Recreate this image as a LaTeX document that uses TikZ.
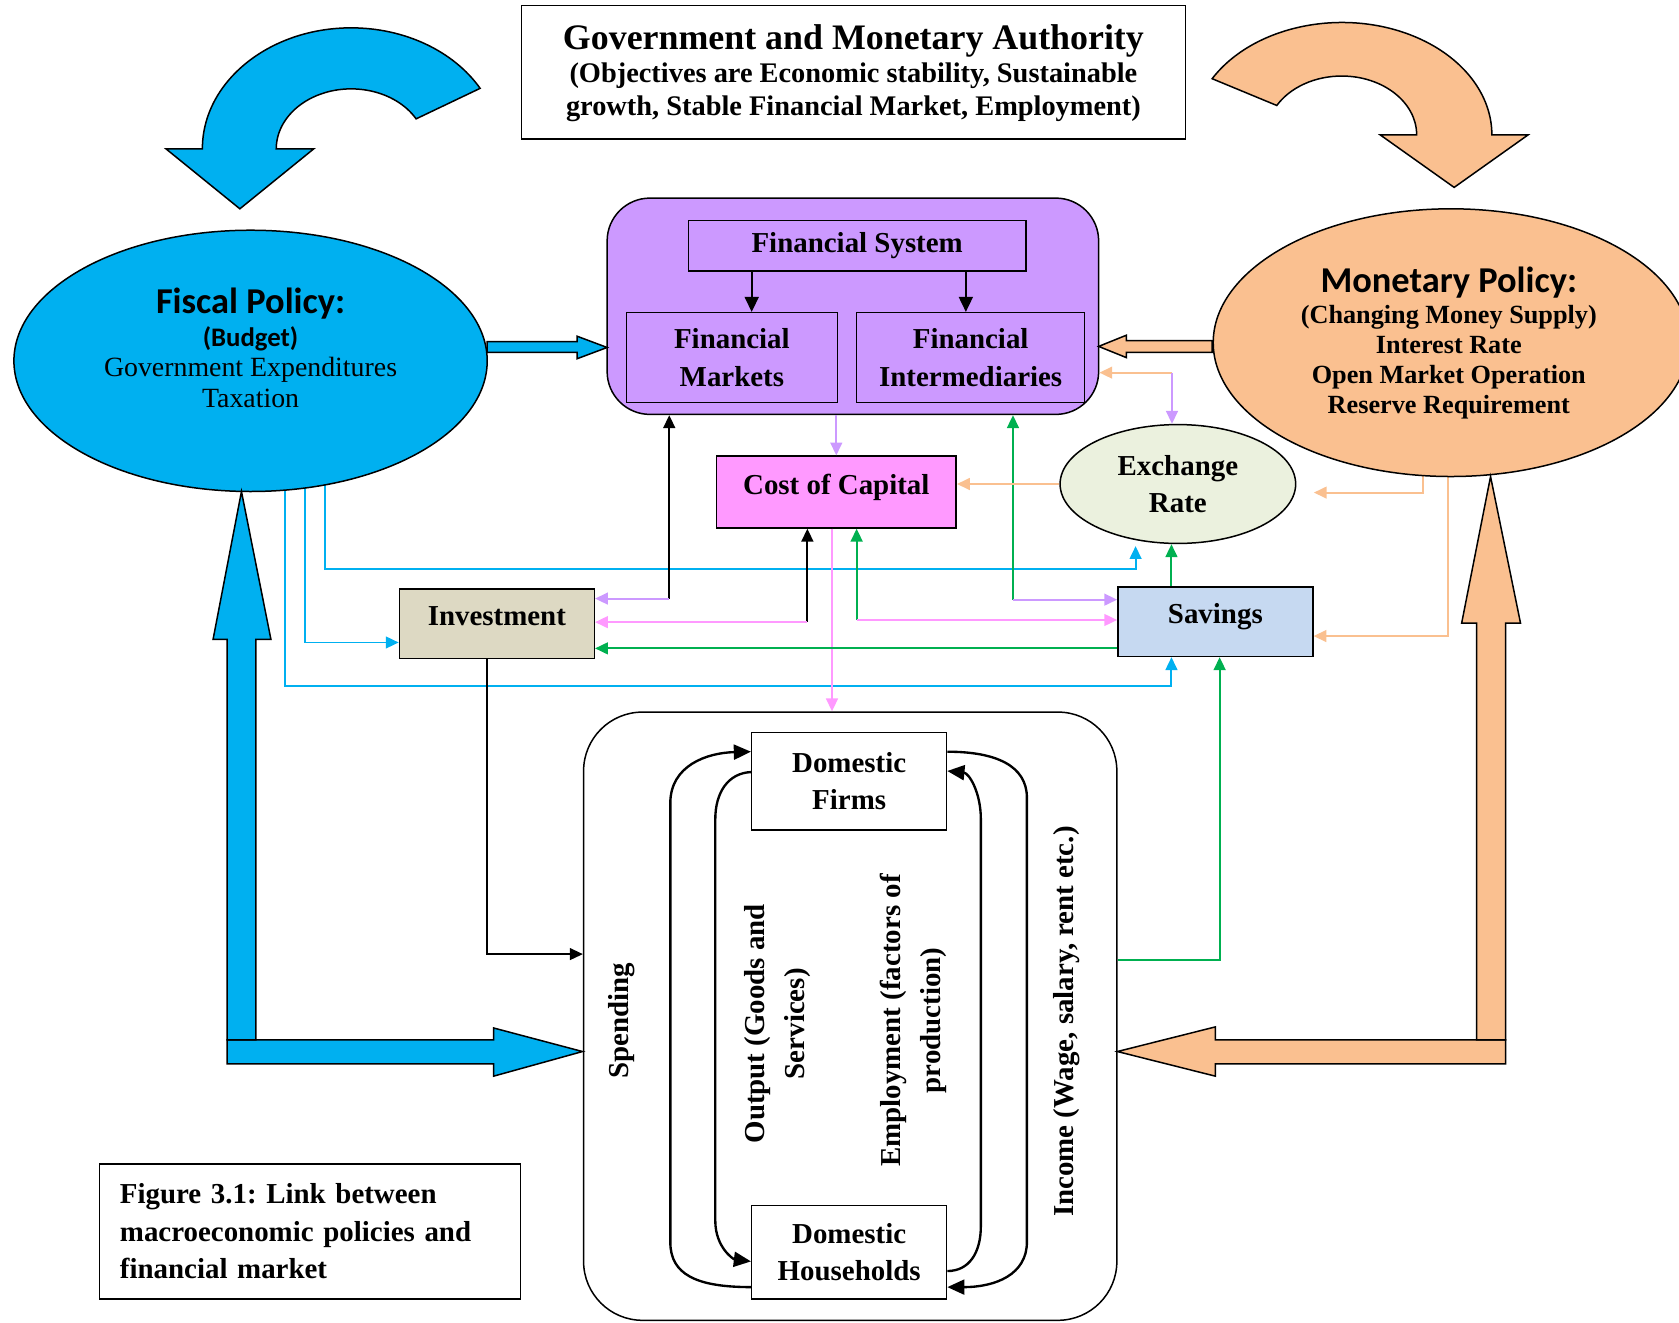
\documentclass[tikz,border=0pt]{standalone}
\usepackage{fontspec}
\setmainfont{Liberation Serif}
\newfontfamily\calib{Carlito}
\usetikzlibrary{shapes.geometric,arrows.meta,backgrounds}
\frenchspacing

\definecolor{fiscblue}{HTML}{00B0F0}
\definecolor{monorange}{HTML}{FAC090}
\definecolor{finpurple}{HTML}{CC99FF}
\definecolor{cocpink}{HTML}{FF99FF}
\definecolor{xrgreen}{HTML}{EBF1DE}
\definecolor{invtan}{HTML}{DDD9C3}
\definecolor{savblue}{HTML}{C6D9F1}
\definecolor{lngreen}{HTML}{00B050}

\tikzset{
  box/.style={draw, line width=1.4pt, inner sep=0pt, align=center, font=\fontsize{27}{35}\selectfont\bfseries},
  oval/.style={ellipse, draw, line width=1.4pt, inner sep=0pt},
  up/.style={text height=18pt, text depth=14pt},
  lnk/.style={line width=1.8pt, -{Triangle[length=12pt,width=11pt]}},
  sys/.style={line width=1.8pt, -{Triangle[length=14pt,width=13pt]}},
  cyc/.style={line width=2.2pt, -{Triangle[length=16pt,width=14pt]}},
  blk/.style={line width=1.4pt, draw=black},
  vlbl/.style={rotate=90, align=center, font=\fontsize{27}{38}\selectfont\bfseries}
}

\begin{document}
\begin{tikzpicture}[x=1pt,y=-1pt]
\useasboundingbox (0,0) rectangle (1568,1235);

\node[box, minimum width=620pt, minimum height=125pt, text depth=4pt, font=\fontsize{26.5}{31}\selectfont\bfseries] (gov) at (797,67.5)
  {{\fontsize{33.5}{36}\selectfont Government and Monetary Authority}\\(Objectives are Economic stability, Sustainable\\growth, Stable Financial Market, Employment)};

% curved arrows
\filldraw[blk, fill=fiscblue] (189,139) arc[start angle=180, end angle=30, x radius=139pt, y radius=113pt]
  -- (388.6,111) arc[start angle=30, end angle=180, x radius=70pt, y radius=56pt]
  -- (293,139) -- (224,195) -- (155,139) -- cycle;
\filldraw[blk, fill=monorange] (1132,73.5) arc[start angle=150, end angle=0, x radius=140pt, y radius=105pt]
  -- (1427,126) -- (1358,175) -- (1289,126) -- (1323,126)
  arc[start angle=0, end angle=150, x radius=70pt, y radius=55pt] -- cycle;

\node[oval, fill=fiscblue, minimum width=442pt, minimum height=244pt] (fp) at (234,337) {};
\node[align=center, font=\fontsize{26}{28.5}\selectfont] (fp-t) at (234,325)
  {{\calib\bfseries\fontsize{34}{38}\selectfont Fiscal Policy:}\\[2pt]{\calib\bfseries\fontsize{25}{30}\selectfont (Budget)}\\Government Expenditures\\Taxation};
\node[oval, fill=monorange, minimum width=444pt, minimum height=250pt] (mp) at (1355,320) {};
\node[align=center, font=\fontsize{24.5}{28}\selectfont\bfseries] (mp-t) at (1353,320)
  {{\calib\fontsize{34}{38}\selectfont Monetary Policy:}\\[1pt](Changing Money Supply)\\Interest Rate\\Open Market Operation\\Reserve Requirement};

\node[box, fill=finpurple, rounded corners=40pt, minimum width=459pt, minimum height=202pt] (fin) at (796.5,286) {};
\node[box, fill=finpurple, minimum width=315pt, minimum height=47pt] (fsys) at (800.5,229.5) {Financial System};
\node[box, fill=finpurple, minimum width=197pt, minimum height=84pt] (fmkt) at (683.5,334) {Financial\\Markets};
\node[box, fill=finpurple, minimum width=213pt, minimum height=84pt] (fint) at (906.5,334) {Financial\\Intermediaries};

\node[box, up, fill=cocpink, minimum width=224pt, minimum height=67pt] (coc) at (781,459.5) {Cost of Capital};
\node[oval, box, fill=xrgreen, minimum width=220pt, minimum height=111pt] (xr) at (1100,452) {Exchange\\Rate};
\node[box, up, fill=invtan, minimum width=182pt, minimum height=65pt] (inv) at (464,582.5) {Investment};
\node[box, up, fill=savblue, minimum width=182pt, minimum height=65pt] (sav) at (1135,580.5) {Savings};

\node[box, rounded corners=55pt, minimum width=498pt, minimum height=568pt] (flow) at (794,949) {};
\node[box, fill=white, minimum width=182pt, minimum height=91pt] (firm) at (793,729.5) {Domestic\\Firms};
\node[box, fill=white, minimum width=182pt, minimum height=87pt] (hh) at (793,1169.5) {Domestic\\Households};

\node[vlbl] (spend) at (581,953) {Spending};
\node[vlbl] (outp) at (726,956) {Output (Goods and\\Services)};
\node[vlbl] (empl) at (853,953) {Employment (factors of\\production)};
\node[vlbl] (inc) at (996,954) {Income (Wage, salary, rent etc.)};

\node[box, minimum width=393pt, minimum height=126pt, text width=355pt, align=left] (cap) at (289.5,1150)
  {Figure 3.1: Link between\\macroeconomic policies and\\financial market};

% block arrows
\filldraw[blk, fill=fiscblue] (455,319) -- (539,319) -- (539,314) -- (567,324.5) -- (539,335) -- (539,329) -- (455,329) -- cycle;
\filldraw[blk, fill=monorange] (1132,318) -- (1052,318) -- (1052,313) -- (1026,323.5) -- (1052,334) -- (1052,329) -- (1132,329) -- cycle;
\filldraw[blk, fill=fiscblue] (212,971) -- (461,971) -- (461,960) -- (544,982) -- (461,1005) -- (461,993.5) -- (212,993.5) -- cycle;
\filldraw[blk, fill=fiscblue] (212,971) -- (212,597) -- (199,597) -- (225.5,459) -- (253,597) -- (239,597) -- (239,971) -- cycle;
\filldraw[blk, fill=monorange] (1406,971) -- (1135,971) -- (1135,959) -- (1043.5,982) -- (1135,1005) -- (1135,993.5) -- (1406,993.5) -- cycle;
\filldraw[blk, fill=monorange] (1379,971) -- (1379,582) -- (1365,582) -- (1392,445) -- (1420,582) -- (1406,582) -- (1406,971) -- cycle;

% connectors
\coordinate (c1) at (625,559);
\coordinate (c2) at (946,560);
\coordinate (c3) at (1094.5,348);
\coordinate (c4) at (754,581);
\coordinate (c5) at (800,579);
\coordinate (xrb) at (1060.5,510);
\coordinate (xrr) at (1227,460);

\draw[sys] (fsys.south -| 702,0) -- (fmkt.north -| 702,0);
\draw[sys] (fsys.south -| 902,0) -- (fint.north -| 902,0);

\draw[lnk, draw=finpurple] (coc.north |- fin.south) -- (coc.north);
\draw[lnk] (c1) -- (fin.south -| c1);
\draw[lnk, draw=finpurple] (c1) -- (inv.east |- c1);
\draw[lnk, draw=lngreen] (c2) -- (fin.south -| c2);
\draw[lnk, draw=finpurple] (c2) -- (sav.west |- c2);
\draw[lnk, draw=monorange] (c3) -- (fin.east |- c3);
\draw[lnk, draw=finpurple] (c3) -- (c3 |- xr.north);
\draw[lnk] (c4) -- (coc.south -| c4);
\draw[lnk, draw=cocpink] (c4) -- (inv.east |- c4);
\draw[lnk, draw=lngreen] (c5) -- (coc.south -| c5);
\draw[lnk, draw=cocpink] (c5) -- (sav.west |- c5);
\draw[lnk, draw=cocpink] (coc.south -| 777,0) -- (flow.north -| 777,0);
\draw[lnk, draw=lngreen] (sav.west |- 0,605.5) -- (inv.east |- 0,605.5);
\draw[lnk, draw=monorange] (xr.west) -- (coc.east |- xr.west);
\draw[lnk, draw=lngreen] (sav.north -| 1094,0) -- (xr.south -| 1094,0);
\draw[lnk, draw=lngreen] (flow.east |- 0,896.5) -| (sav.south -| 1139,0);
\draw[lnk, line width=1.4pt] (inv.south -| 455,0) |- (flow.west |- 0,891);

\begin{pgfonlayer}{background}
\draw[lnk, draw=fiscblue] (fp.center -| 303.5,0) |- (1060.5,531) -- (xrb);
\draw[lnk, draw=fiscblue] (fp.center -| 285,0) |- (inv.west |- 0,600);
\draw[lnk, draw=fiscblue] (fp.center -| 266,0) |- (1094,641) -- (sav.south -| 1094,0);
\draw[lnk, draw=monorange] (mp.center -| 1329,0) |- (xrr);
\draw[lnk, draw=monorange] (mp.center -| 1352.5,0) |- (sav.east |- 0,594);
\end{pgfonlayer}

% circular flow
\draw[cyc] (hh.west |- 0,1202) .. controls (650,1202) and (626,1190) .. (626,1160) -- (626,750)
  .. controls (626,715) and (660,703) .. (firm.west |- 0,702);
\draw[cyc] (firm.west |- 0,721) .. controls (680,722) and (668,740) .. (668,765) -- (668,1140)
  .. controls (668,1165) and (685,1176) .. (hh.west |- 0,1178);
\draw[cyc] (hh.east |- 0,1187) .. controls (905,1187) and (916,1170) .. (916,1145) -- (916,765)
  .. controls (916,740) and (905,722) .. (firm.east |- 0,720);
\draw[cyc] (firm.east |- 0,702) .. controls (930,702) and (959,715) .. (959,745) -- (959,1160)
  .. controls (959,1190) and (930,1202) .. (hh.east |- 0,1202);
\end{tikzpicture}
\end{document}
